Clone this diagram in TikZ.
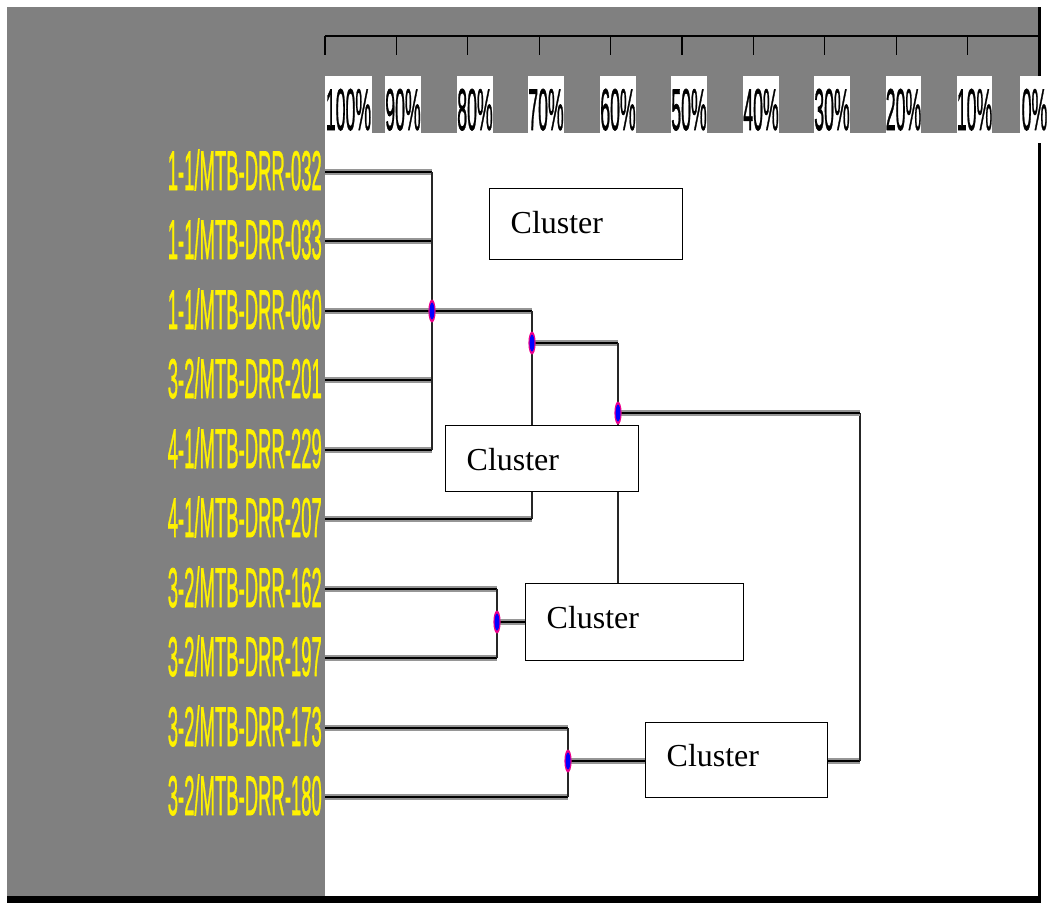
\documentclass[tikz,border=0pt]{standalone}
\usepackage{fontspec}
\usepackage{graphicx}
\setmainfont{Liberation Serif}
\newfontfamily\labsans[FakeBold=1.3]{Liberation Sans}
\newcommand\condtext[2]{\scalebox{#1}[1]{#2}}
\definecolor{panel}{RGB}{128,128,128}
\definecolor{halo}{RGB}{150,150,150}
\pgfdeclarelayer{bg}
\pgfdeclarelayer{lines}
\pgfsetlayers{bg,lines,main}
\tikzset{
  leaf/.style={anchor=base east, inner sep=0pt, text=yellow,
    font=\labsans\fontsize{56}{56}\selectfont},
  pct/.style={anchor=base, inner sep=0pt, text=black,
    font=\labsans\fontsize{59}{59}\selectfont},
  branch/.style={draw=black, line width=2.8pt,
    preaction={draw=halo, line width=5.4pt}},
  stem/.style={draw=black!85, line width=1.4pt},
  tick/.style={draw=black, line width=1.3pt},
  cbox/.style={draw=black, line width=1.3pt, fill=white, anchor=north west,
    inner xsep=21pt, inner ysep=0pt, align=left, text depth=0pt,
    font=\fontsize{32}{32}\selectfont},
}
\newcommand\mergedot[1]{%
  \fill[magenta] (#1) ellipse [x radius=3.6pt, y radius=11.5pt];
  \fill[blue] (#1) ellipse [x radius=2.4pt, y radius=8.5pt];}
\begin{document}
\begin{tikzpicture}[x=1pt, y=-1pt]
\useasboundingbox (0,0) rectangle (1049,903);

% ---------- frame, panel and scale ----------
\begin{pgfonlayer}{bg}
  \fill[white] (0,0) rectangle (1049,903);
  \fill[panel] (7,7) rectangle (1039,898);
  \fill[white] (325,133) rectangle (1039,897);
  \draw[line width=3pt] (1039.5,7) -- (1039.5,76);
  \draw[line width=3pt] (1039.5,143) -- (1039.5,900);
  \fill[black] (7,896) rectangle (1041,903);
  \draw[line width=2.4pt] (325,36) -- (1040,36);
  \foreach \k in {0,...,10}
    \draw[tick] ({325+71.4*\k},36) -- ({325+71.4*\k},55);
  \foreach \l/\r/\t in {325/372/100, 385/421/90, 457/493/80, 528/564/70,
                        600/636/60, 671/707/50, 743/779/40, 814/850/30,
                        886/921/20, 957/992/10, 1020/1049/0}
    \fill[white] (\l,76) rectangle (\r,133);
\end{pgfonlayer}

\foreach \l/\r/\t in {325/372/100, 385/421/90, 457/493/80, 528/564/70,
                      600/636/60, 671/707/50, 743/779/40, 814/850/30,
                      886/921/20, 957/992/10, 1020/1049/0}
  \node[pct] (p\t) at ({(\l+\r)/2},130) {\condtext{0.30}{\t\%}};

% ---------- leaf labels ----------
\node[leaf] (n1)  at (322,190) {\condtext{0.33}{1-1/MTB-DRR-032}};
\node[leaf] (n2)  at (322,259) {\condtext{0.33}{1-1/MTB-DRR-033}};
\node[leaf] (n3)  at (322,329) {\condtext{0.33}{1-1/MTB-DRR-060}};
\node[leaf] (n4)  at (322,398) {\condtext{0.33}{3-2/MTB-DRR-201}};
\node[leaf] (n5)  at (322,468) {\condtext{0.33}{4-1/MTB-DRR-229}};
\node[leaf] (n6)  at (322,537) {\condtext{0.33}{4-1/MTB-DRR-207}};
\node[leaf] (n7)  at (322,607) {\condtext{0.33}{3-2/MTB-DRR-162}};
\node[leaf] (n8)  at (322,676) {\condtext{0.33}{3-2/MTB-DRR-197}};
\node[leaf] (n9)  at (322,746) {\condtext{0.33}{3-2/MTB-DRR-173}};
\node[leaf] (n10) at (322,815) {\condtext{0.33}{3-2/MTB-DRR-180}};

% leaf line starts
\coordinate (l1)  at (325,172);
\coordinate (l2)  at (325,241);
\coordinate (l3)  at (325,311);
\coordinate (l4)  at (325,380);
\coordinate (l5)  at (325,450);
\coordinate (l6)  at (325,519);
\coordinate (l7)  at (325,589);
\coordinate (l8)  at (325,658);
\coordinate (l9)  at (325,728);
\coordinate (l10) at (325,797);

% merge points
\coordinate (A) at (432,311);
\coordinate (B) at (532,343);
\coordinate (C) at (618,413);
\coordinate (D) at (497,622);
\coordinate (E) at (568,761);
\coordinate (R) at (860,761);

% ---------- cluster boxes ----------
\node[cbox, text width=151pt, text height=18pt, minimum height=71pt] (k1) at (489,188) {Cluster};
\node[cbox, text width=151pt, text height=24pt, minimum height=66pt] (k2) at (445,425) {Cluster};
\node[cbox, text width=176pt, text height=12pt, minimum height=77pt] (k3) at (525,583) {Cluster};
\node[cbox, text width=140pt, text height=12pt, minimum height=75pt] (k4) at (645,722) {Cluster};

% ---------- tree ----------
\begin{pgfonlayer}{lines}
  \foreach \i in {1,...,5} \draw[branch] (l\i) -- (l\i -| A);
  \draw[stem] (l1 -| A) -- (l5 -| A);
  \draw[branch] (A) -- (A -| B);
  \draw[branch] (l6) -- (l6 -| B);
  \draw[stem] (A -| B) -- (l6 -| B);
  \draw[branch] (B) -- (B -| C);
  \draw[stem] (B -| C) -- (C |- k3.north);
  \draw[branch] (l7) -- (l7 -| D);
  \draw[branch] (l8) -- (l8 -| D);
  \draw[stem] (l7 -| D) -- (l8 -| D);
  \draw[branch] (D) -- (D -| k3.west);
  \draw[branch] (l9) -- (l9 -| E);
  \draw[branch] (l10) -- (l10 -| E);
  \draw[stem] (l9 -| E) -- (l10 -| E);
  \draw[branch] (E) -- (E -| k4.west);
  \draw[branch] (E -| k4.east) -- (R);
  \draw[stem] (R) -- (C -| R);
  \draw[branch] (C) -- (C -| R);
\end{pgfonlayer}

\mergedot{A}
\mergedot{B}
\mergedot{C}
\mergedot{D}
\mergedot{E}
\end{tikzpicture}
\end{document}
